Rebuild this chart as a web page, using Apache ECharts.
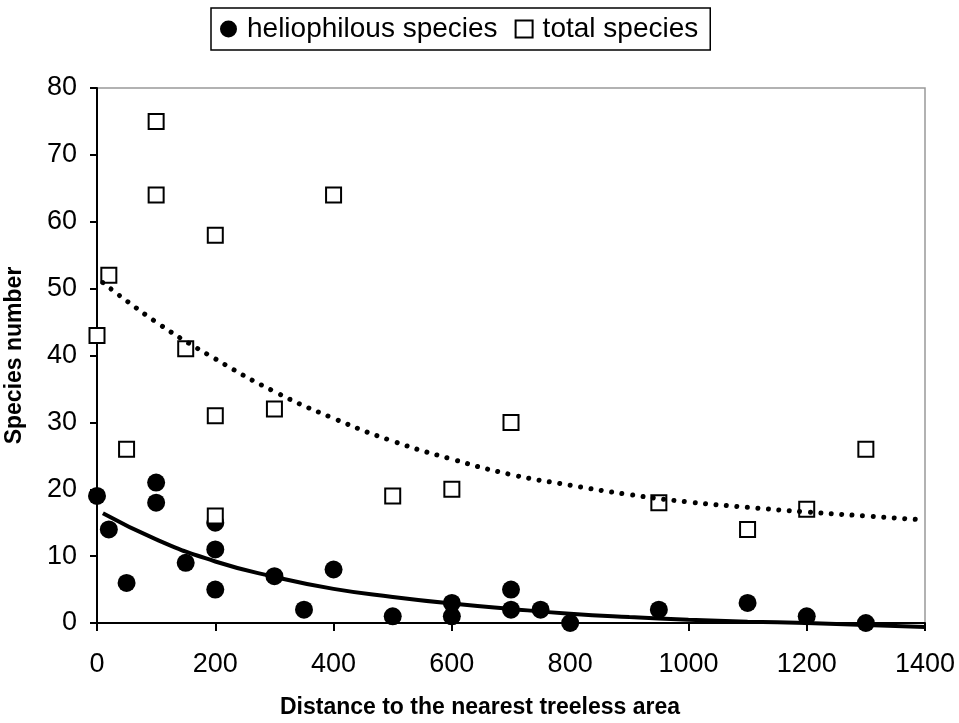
<!DOCTYPE html>
<html>
<head>
<meta charset="utf-8">
<script src="https://cdn.jsdelivr.net/npm/echarts@6/dist/echarts.min.js"></script>
<style>
  html, body { margin: 0; padding: 0; background: #fff; }
  #chart { width: 959px; height: 723px; }
</style>
</head>
<body>
<div id="chart"></div>
<script>
// heliophilous species (filled circles)
const helioX = [0, 20, 50, 100, 100, 150, 200, 200, 200, 300, 350, 400, 500, 600, 600, 700, 700, 750, 800, 950, 1100, 1200, 1300]
const helioY = [19, 14, 6, 21, 18, 9, 15, 11, 5, 7, 2, 8, 1, 3, 1, 5, 2, 2, 0, 2, 3, 1, 0]

// total species (open squares)
const totalX = [0, 20, 50, 100, 100, 150, 200, 200, 200, 300, 400, 500, 600, 700, 950, 1100, 1200, 1300]
const totalY = [43, 52, 26, 75, 64, 41, 58, 31, 16, 32, 64, 19, 20, 30, 18, 14, 17, 26]

// trend lines
const trendX = [10, 100, 200, 300, 400, 500, 600, 700, 800, 900, 1000, 1100, 1200, 1300, 1400]
const helioTrend = [16.4, 12.5, 9.2, 6.9, 5.1, 3.9, 2.9, 2.1, 1.4, 0.9, 0.5, 0.2, 0.0, -0.3, -0.6]
const totalTrend = [50.9, 45.0, 39.5, 34.6, 30.6, 27.2, 24.5, 22.2, 20.6, 19.2, 18.1, 17.3, 16.6, 16.0, 15.4]

const font = 'Liberation Sans, Arial, Helvetica, sans-serif'
const pairs = (xs, ys) => xs.map((x, i) => [x, ys[i]])

const chart = echarts.init(document.getElementById('chart'))

const option = {
  animation: false,
  backgroundColor: '#fff',
  legend: {
    left: 211,
    top: 8,
    padding: [7, 12, 7, 9],
    borderColor: '#000',
    borderWidth: 1.5,
    itemGap: 17,
    itemWidth: 17,
    itemHeight: 17,
    textStyle: { fontSize: 28, color: '#000', fontFamily: font, padding: [0, 0, 0, 5] },
    data: ['heliophilous species', 'total species']
  },
  grid: {
    left: 97,
    right: 34,
    top: 88,
    bottom: 100,
    outerBoundsMode: 'none',
    show: true,
    borderColor: '#999',
    borderWidth: 1.5
  },
  xAxis: {
    type: 'value',
    min: 0,
    max: 1400,
    interval: 200,
    name: 'Distance to the nearest treeless area',
    nameLocation: 'middle',
    nameGap: 73,
    nameTextStyle: { fontSize: 23, fontWeight: 'bold', color: '#000', fontFamily: font, padding: [0, 62, 0, 0] },
    axisLine: { show: true, lineStyle: { color: '#000', width: 2 } },
    axisTick: { show: true, length: 8, lineStyle: { color: '#000', width: 2 } },
    axisLabel: { fontSize: 27, color: '#000', fontFamily: font, margin: 28, formatter: v => String(v) },
    splitLine: { show: false }
  },
  yAxis: {
    type: 'value',
    min: 0,
    max: 80,
    interval: 10,
    name: 'Species number',
    nameLocation: 'middle',
    nameGap: 71,
    nameTextStyle: { fontSize: 23, fontWeight: 'bold', color: '#000', fontFamily: font },
    axisLine: { show: true, lineStyle: { color: '#000', width: 2 } },
    axisTick: { show: true, length: 7, lineStyle: { color: '#000', width: 2 } },
    axisLabel: { fontSize: 27, color: '#000', fontFamily: font, margin: 20 },
    splitLine: { show: false }
  },
  series: [
    {
      name: 'heliophilous species',
      type: 'scatter',
      symbol: 'circle',
      symbolSize: 18,
      itemStyle: { color: '#000', opacity: 1 },
      data: pairs(helioX, helioY)
    },
    {
      name: 'total species',
      type: 'scatter',
      symbol: 'rect',
      symbolSize: 15,
      itemStyle: { color: '#fff', borderColor: '#000', borderWidth: 2, opacity: 1 },
      data: pairs(totalX, totalY)
    },
    {
      name: 'helio trend',
      type: 'line',
      smooth: true,
      symbol: 'none',
      clip: false,
      silent: true,
      lineStyle: { color: '#000', width: 4 },
      data: pairs(trendX, helioTrend)
    },
    {
      name: 'total trend',
      type: 'line',
      smooth: true,
      symbol: 'none',
      clip: false,
      silent: true,
      lineStyle: { color: '#000', width: 5, type: [0.01, 10.5], cap: 'round' },
      data: pairs(trendX, totalTrend)
    }
  ]
}

chart.setOption(option)
</script>
</body>
</html>
